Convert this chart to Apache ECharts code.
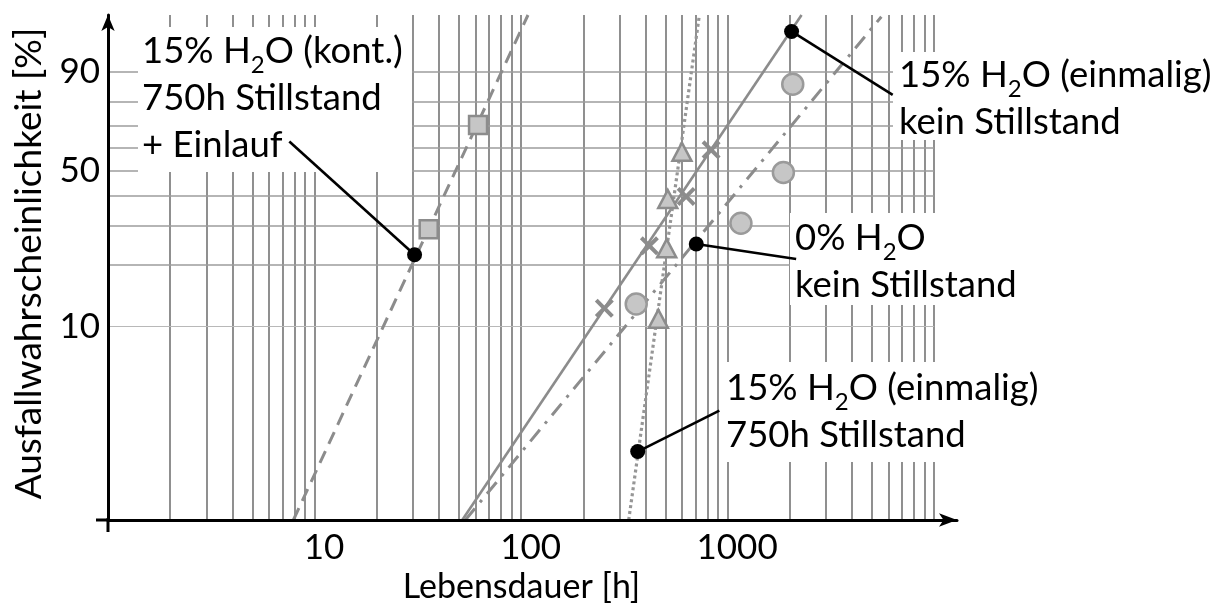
<!DOCTYPE html>
<html>
<head>
<meta charset="utf-8">
<title>Lebensdauer – Weibullnetz</title>
<script src="https://cdn.jsdelivr.net/npm/echarts@6/dist/echarts.min.js"></script>
<style>
  html, body { margin: 0; padding: 0; background: #fff; }
  #chart { width: 1220px; height: 604px; }
</style>
</head>
<body>
<div id="chart"></div>
<script>
// Weibull-Wahrscheinlichkeitsnetz: x logarithmisch, y = ln(-ln(1 - F))

// Messpunkte: Lebensdauer [h], Ausfallwahrscheinlichkeit [%]
const squareT = [35.7, 61.9]            // 15% H2O (kont.) 750h Stillstand + Einlauf
const squareF = [29.0, 70.3]
const crossT = [253, 418, 630, 832]     // 15% H2O (einmalig) kein Stillstand
const crossF = [12.3, 24.4, 39.9, 59.2]
const circleT = [361, 1160, 1862, 2067] // 0% H2O kein Stillstand
const circleF = [12.9, 30.8, 49.4, 86.3]
const triT = [462, 507, 513, 601]       // 15% H2O (einmalig) 750h Stillstand
const triF = [10.9, 23.8, 39.0, 58.4]

// Ausgleichsgeraden (Anfang / Ende)
const fitKontT = [7.9, 108]
const fitKontF = [1, 99]
const fitEinmT = [51.9, 2280]
const fitEinmF = [1, 99]
const fitNullT = [53.7, 5550]
const fitNullF = [1, 98.9]
const fitStillT = [332, 730]
const fitStillF = [1, 99]

// Bezugspunkte der Beschriftungen und Enden der Hinweislinien
const anchorT = [30.5, 2040, 705, 367]
const anchorF = [22.2, 97.7, 24.9, 2.28]
const leaderT = [7.55, 6300, 2147, 912]
const leaderF = [62.9, 82.6, 21.2, 3.72]

// Netzlinien und Achsbeschriftung
const gridT = [2, 3, 4, 5, 6, 7, 8, 9,
  10, 20, 30, 40, 50, 60, 70, 80, 90,
  100, 200, 300, 400, 500, 600, 700, 800, 900,
  1000, 2000, 3000, 4000, 5000, 6000, 7000, 8000, 9000, 10000]
const gridF = [20, 30, 40, 50, 60, 70, 80, 90]
const gridFLight = [10]
const xTicks = [10, 100, 1000]
const yTicks = [10, 50, 90]
const fMin = 1
const fMax = 99
const tMin = 1
const tMax = 12900

const FONT = 'Lato'
const wb = (f) => Math.log(-Math.log(1 - f / 100))
const pts = (ts, fs) => ts.map((t, i) => [t, wb(fs[i])])

const chart = echarts.init(document.getElementById('chart'))

const gridColor = '#7c7c7c'
const markColor = '#8c8c8c'
const fillColor = '#c6c6c6'

const crossPath = 'path://M0,3L3,0L10,7L17,0L20,3L13,10L20,17L17,20L10,13L3,20L0,17L7,10Z'

// Beschriftungskästen: weiße Fläche unterbricht das Netz
const boxes = [
  { x: 138, y: 27, w: 274, h: 145 },
  { x: 893, y: 52, w: 327, h: 88 },
  { x: 790, y: 213, w: 250, h: 92 },
  { x: 722, y: 362, w: 338, h: 100 },
]
const labels = [
  { x: 142, y: 28, text: '{n|15% H}{s|2}{n|O (kont.)}\n{n|750h Stillstand}\n{n|+ Einlauf}' },
  { x: 899, y: 52, text: '{n|15% H}{s|2}{n|O (einmalig)}\n{n|kein Stillstand}' },
  { x: 795, y: 215, text: '{n|0% H}{s|2}{n|O}\n{n|kein Stillstand}' },
  { x: 726, y: 365, text: '{n|15% H}{s|2}{n|O (einmalig)}\n{n|750h Stillstand}' },
]

const rich = {
  n: { fontFamily: FONT, fontSize: 36.5, lineHeight: 47, color: '#000' },
  s: { fontFamily: FONT, fontSize: 24, lineHeight: 47, color: '#000', padding: [28, 0, 0, 0] },
}

const graphic = []
boxes.forEach((b) => {
  graphic.push({ type: 'rect', z: 2, silent: true, shape: { x: b.x, y: b.y, width: b.w, height: b.h }, style: { fill: '#fff' } })
})
labels.forEach((l) => {
  graphic.push({
    type: 'text', z: 8, x: l.x, y: l.y, silent: true,
    style: { text: l.text, rich, fontFamily: FONT, fontSize: 36.5, lineHeight: 47, fill: '#000', align: 'left', verticalAlign: 'top' },
  })
})
// Achsenkreuz: kurzer Überstand am Ursprung
graphic.push({ type: 'line', z: 12, silent: true, shape: { x1: 96, y1: 520, x2: 110, y2: 520 }, style: { stroke: '#000', lineWidth: 3 } })
graphic.push({ type: 'line', z: 12, silent: true, shape: { x1: 108, y1: 518, x2: 108, y2: 532 }, style: { stroke: '#000', lineWidth: 3 } })

const fitStyle = (type, color, width) => ({ color, width, type })

chart.setOption({
  animation: false,
  backgroundColor: '#fff',
  grid: { left: 108, right: 263, top: 15, bottom: 84, containLabel: false, outerBoundsMode: 'none' },
  xAxis: {
    type: 'log',
    logBase: 10,
    min: tMin,
    max: tMax,
    z: 10,
    name: 'Lebensdauer [h]',
    nameLocation: 'middle',
    nameGap: 42,
    nameTextStyle: { fontFamily: FONT, fontSize: 34, color: '#000', padding: [0, 22, 0, 0] },
    axisLine: { show: true, onZero: false, symbol: ['none', 'arrow'], symbolSize: [10, 18], lineStyle: { color: '#000', width: 3 } },
    axisTick: { show: false },
    splitLine: { show: false },
    minorTick: { show: false },
    axisLabel: {
      fontFamily: FONT, fontSize: 35, color: '#000', margin: 10, padding: [0, 0, 0, 19],
      formatter: (v) => {
        const hit = xTicks.find((t) => Math.abs(Math.log10(v) - Math.log10(t)) < 1e-6)
        return hit ? String(hit) : ''
      },
    },
  },
  yAxis: {
    type: 'value',
    min: wb(fMin),
    max: wb(fMax),
    z: 10,
    name: 'Ausfallwahrscheinlichkeit [%]',
    nameLocation: 'middle',
    nameRotate: 90,
    nameGap: 60,
    nameTextStyle: { fontFamily: FONT, fontSize: 37, color: '#000', padding: [0, 0, 0, 8] },
    axisLine: { show: true, onZero: false, symbol: ['none', 'arrow'], symbolSize: [10, 16], lineStyle: { color: '#000', width: 3 } },
    axisTick: { show: false },
    splitLine: { show: false },
    axisLabel: {
      fontFamily: FONT, fontSize: 35, color: '#000', margin: 8, padding: [10, 0, 0, 0],
      customValues: yTicks.map(wb),
      formatter: (v) => String(Math.round(100 * (1 - Math.exp(-Math.exp(v))))),
    },
  },
  graphic: { elements: graphic },
  series: [
    {
      name: 'netz-v', type: 'lines', coordinateSystem: 'cartesian2d', z: 1, silent: true,
      lineStyle: { color: gridColor, width: 1.7, opacity: 1 },
      data: gridT.map((t) => ({ coords: [[t, wb(fMin)], [t, wb(fMax)]] })),
    },
    {
      name: 'netz-h', type: 'lines', coordinateSystem: 'cartesian2d', z: 1, silent: true,
      lineStyle: { color: '#9c9c9c', width: 1.6, opacity: 1 },
      data: gridF.map((f) => ({ coords: [[tMin, wb(f)], [10000, wb(f)]] })),
    },
    {
      name: 'netz-h10', type: 'lines', coordinateSystem: 'cartesian2d', z: 1, silent: true,
      lineStyle: { color: '#b8b8b8', width: 1.2, opacity: 1 },
      data: gridFLight.map((f) => ({ coords: [[tMin, wb(f)], [10000, wb(f)]] })),
    },
    // Ausgleichsgeraden
    { type: 'line', z: 3, showSymbol: false, silent: true, data: pts(fitKontT, fitKontF), lineStyle: fitStyle([13, 8], markColor, 3) },
    { type: 'line', z: 3, showSymbol: false, silent: true, data: pts(fitEinmT, fitEinmF), lineStyle: fitStyle('solid', markColor, 2.6) },
    { type: 'line', z: 3, showSymbol: false, silent: true, data: pts(fitNullT, fitNullF), lineStyle: fitStyle([15, 8, 3, 8], markColor, 3) },
    { type: 'line', z: 3, showSymbol: false, silent: true, data: pts(fitStillT, fitStillF), lineStyle: fitStyle([3, 3], '#969696', 3.2) },
    // Messpunkte
    {
      type: 'scatter', z: 4, data: pts(squareT, squareF), symbol: 'rect', symbolSize: 18,
      itemStyle: { color: fillColor, borderColor: markColor, borderWidth: 2.5, opacity: 1 },
    },
    {
      type: 'scatter', z: 4, data: pts(crossT, crossF), symbol: crossPath, symbolSize: 19,
      itemStyle: { color: markColor, opacity: 1 },
    },
    {
      type: 'scatter', z: 4, data: pts(circleT, circleF), symbol: 'circle', symbolSize: 21,
      itemStyle: { color: fillColor, borderColor: '#9a9a9a', borderWidth: 2.5, opacity: 1 },
    },
    {
      type: 'scatter', z: 4, data: pts(triT, triF), symbol: 'triangle', symbolSize: [19, 18],
      itemStyle: { color: fillColor, borderColor: markColor, borderWidth: 2.5, opacity: 1 },
    },
    // Hinweislinien
    {
      type: 'lines', coordinateSystem: 'cartesian2d', z: 6, silent: true,
      lineStyle: { color: '#000', width: 2.6, opacity: 1 },
      data: anchorT.map((t, i) => ({ coords: [[t, wb(anchorF[i])], [leaderT[i], wb(leaderF[i])]] })),
    },
    {
      type: 'scatter', z: 7, data: pts(anchorT, anchorF), symbol: 'circle', symbolSize: 15,
      itemStyle: { color: '#000', opacity: 1 },
    },
  ],
})
</script>
</body>
</html>
